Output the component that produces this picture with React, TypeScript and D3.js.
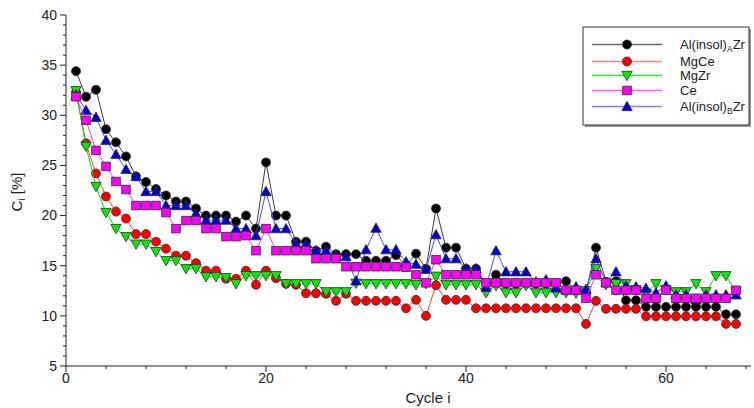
import React from "react";
import * as d3 from "d3";

// Cycle-by-cycle values, C_i [%], cycles 1..67
const alInsolA = [
  34.4, 31.85, 32.55, 28.6, 27.3, 25.9, 23.9, 23.35, 22.65, 22.0,
  21.4, 21.4, 20.7, 20.0, 20.0, 20.0, 19.4, 20.0, 18.7, 25.3,
  20.0, 20.0, 17.4, 17.4, 16.5, 16.9, 16.15, 16.15, 16.15, 15.5,
  15.5, 15.5, 16.05, 15.0, 16.2, 14.7, 20.7, 16.8, 16.8, 14.7,
  14.7, 13.2, 14.1, 13.2, 13.2, 13.2, 13.2, 13.2, 13.2, 13.45,
  12.6, 12.4, 16.8, 13.4, 13.45, 11.55, 11.55, 10.9, 10.9, 10.9,
  10.9, 10.9, 10.9, 10.9, 10.9, 10.15, 10.15,
];
const mgCe = [
  32.3, 27.2, 24.2, 21.9, 20.4, 19.7, 18.15, 18.15, 17.4, 16.7,
  16.0, 16.0, 15.25, 14.5, 14.5, 13.7, 13.7, 14.5, 13.1, 14.5,
  13.75, 13.2, 13.1, 12.25, 12.25, 12.2, 11.5, 12.2, 11.5, 11.5,
  11.5, 11.5, 11.5, 10.75, 11.6, 10.0, 13.05, 11.6, 11.6, 11.6,
  10.75, 10.75, 10.75, 10.75, 10.75, 10.75, 10.75, 10.75, 10.75, 10.75,
  10.75, 9.2, 11.5, 10.7, 10.7, 10.7, 10.7, 9.95, 9.95, 9.95,
  9.95, 9.95, 9.95, 9.95, 9.95, 9.2, 9.2,
];
const mgZr = [
  32.45, 26.9, 22.9, 20.3, 18.7, 17.9, 17.15, 17.15, 16.4, 15.5,
  15.5, 14.7, 14.7, 13.9, 13.9, 13.8, 13.2, 14.0, 14.0, 14.0,
  14.0, 13.2, 13.2, 13.2, 13.2, 12.4, 12.4, 12.4, 13.25, 13.2,
  13.2, 13.2, 13.2, 13.2, 13.1, 13.2, 13.95, 13.1, 13.1, 13.1,
  13.1, 12.3, 13.0, 12.3, 12.3, 13.0, 12.3, 12.3, 12.3, 12.3,
  12.25, 12.5, 14.7, 13.1, 13.2, 13.2, 12.6, 12.25, 13.2, 12.6,
  12.4, 12.4, 13.2, 12.4, 14.0, 14.0, 12.4,
];
const ce = [
  31.85, 29.5, 26.5, 24.9, 23.4, 22.6, 21.0, 21.0, 21.0, 20.3,
  18.7, 19.5, 19.5, 18.7, 18.7, 17.9, 17.9, 18.0, 16.5, 18.7,
  16.5, 16.5, 16.5, 16.5, 15.7, 15.7, 15.7, 14.9, 14.9, 14.9,
  14.9, 14.9, 14.9, 14.85, 14.1, 13.3, 15.6, 14.1, 14.1, 14.1,
  14.1, 13.3, 13.3, 13.3, 13.3, 13.3, 13.3, 13.3, 13.3, 12.55,
  12.55, 11.75, 14.1, 13.3, 12.55, 12.55, 12.55, 11.75, 11.75, 12.55,
  11.75, 11.75, 11.75, 11.75, 11.75, 11.75, 12.55,
];
const alInsolB = [
  32.0, 30.5, 29.8, 27.5, 26.1, 24.6, 23.9, 22.4, 22.4, 21.0,
  21.0, 21.0, 20.2, 19.55, 19.55, 19.55, 18.7, 18.7, 18.0, 22.4,
  18.7, 18.7, 17.2, 17.2, 16.5, 16.5, 16.0, 15.9, 13.5, 16.6,
  18.75, 16.6, 16.6, 15.4, 15.15, 14.65, 18.1, 15.7, 15.7, 14.7,
  14.7, 12.85, 16.5, 14.4, 14.4, 14.4, 13.4, 13.6, 12.8, 12.6,
  12.9, 12.65, 15.7, 13.3, 14.4, 13.0, 12.9, 12.75, 12.3, 13.0,
  12.1, 12.1, 11.6, 12.1, 12.1, 12.1, 12.1,
];

const xTicksMajor = [0, 20, 40, 60];
const yTicksMajor = [5, 10, 15, 20, 25, 30, 35, 40];

type Shape = "circle" | "square" | "triDown" | "triUp";

type Series = {
  values: number[];
  shape: Shape;
  fill: string;
  line: string;
  legendLine: string;
  name: string;
  sub?: string;
  tail?: string;
};

// draw order: first entry ends up at the bottom
const series: Series[] = [
  { values: alInsolA, shape: "circle", fill: "#000000", line: "#3a3a3a", legendLine: "#666666", name: "Al(insol)", sub: "A", tail: "Zr" },
  { values: mgCe, shape: "circle", fill: "#ff0000", line: "#ff3b3b", legendLine: "#ff8080", name: "MgCe" },
  { values: mgZr, shape: "triDown", fill: "#00ee00", line: "#00dd00", legendLine: "#22ee22", name: "MgZr" },
  { values: alInsolB, shape: "triUp", fill: "#0000dd", line: "#4a4aff", legendLine: "#8080ff", name: "Al(insol)", sub: "B", tail: "Zr" },
  { values: ce, shape: "square", fill: "#ff00ff", line: "#ff33ff", legendLine: "#ff55ff", name: "Ce" },
];

const legendOrder = [0, 1, 2, 4, 3];

const W = 754;
const H = 408;
const left = 66;
const right = 751;
const top = 15;
const bottom = 366;

const x = d3.scaleLinear().domain([0, 68.5]).range([left, right]);
const y = d3.scaleLinear().domain([5, 40]).range([bottom, top]);

const FONT = "'Liberation Sans', Arial, Helvetica, sans-serif";

function Marker({ shape, cx, cy, fill }: { shape: Shape; cx: number; cy: number; fill: string }) {
  const stroke = "#303030";
  if (shape === "circle") {
    return <circle cx={cx} cy={cy} r={4.5} fill={fill} stroke={stroke} strokeWidth={0.8} />;
  }
  if (shape === "square") {
    return <rect x={cx - 4.3} y={cy - 4.3} width={8.6} height={8.6} fill={fill} stroke={stroke} strokeWidth={0.8} />;
  }
  const s = 5.2;
  const pts =
    shape === "triUp"
      ? [[cx, cy - s], [cx + s, cy + s * 0.8], [cx - s, cy + s * 0.8]]
      : [[cx, cy + s], [cx + s, cy - s * 0.8], [cx - s, cy - s * 0.8]];
  return <polygon points={pts.map((p) => p.join(",")).join(" ")} fill={fill} stroke={stroke} strokeWidth={0.8} />;
}

export default function App() {
  const line = d3
    .line<number>()
    .x((_, i) => x(i + 1))
    .y((v) => y(v));

  const xMinor = d3.range(0, 69, 4).filter((t) => !xTicksMajor.includes(t));
  const yMinor = d3.range(5, 41, 1).filter((t) => !yTicksMajor.includes(t));

  const legendRows = [44.5, 61.5, 75.5, 90.5, 106.5];

  return (
    <div style={{ position: "fixed", left: 0, top: 0, width: W, height: H, background: "#fff" }}>
      <svg width={W} height={H} style={{ display: "block" }} fontFamily={FONT}>
        <rect width={W} height={H} fill="#ffffff" />

        {/* series */}
        {series.map((s, si) => (
          <g key={si}>
            <path d={line(s.values) || ""} fill="none" stroke={s.line} strokeWidth={1} />
            {s.values.map((v, i) => (
              <Marker key={i} shape={s.shape} cx={x(i + 1)} cy={y(v)} fill={s.fill} />
            ))}
          </g>
        ))}

        {/* axes */}
        <g stroke="#222" strokeWidth={1} fill="none">
          <line x1={left} y1={top} x2={left} y2={bottom + 0.5} />
          <line x1={left} y1={bottom} x2={right} y2={bottom} />
          {yTicksMajor.map((t) => (
            <line key={"ym" + t} x1={left - 6} x2={left} y1={y(t)} y2={y(t)} />
          ))}
          {yMinor.map((t) => (
            <line key={"yn" + t} x1={left - 3} x2={left} y1={y(t)} y2={y(t)} />
          ))}
          {xTicksMajor.map((t) => (
            <line key={"xm" + t} x1={x(t)} x2={x(t)} y1={bottom} y2={bottom + 6} />
          ))}
          {xMinor.map((t) => (
            <line key={"xn" + t} x1={x(t)} x2={x(t)} y1={bottom} y2={bottom + 3} />
          ))}
        </g>

        <g fontSize={14} fill="#222">
          {yTicksMajor.map((t) => (
            <text key={"yl" + t} x={left - 9} y={y(t)} dy="0.35em" textAnchor="end">
              {t}
            </text>
          ))}
          {xTicksMajor.map((t) => (
            <text key={"xl" + t} x={x(t)} y={bottom + 17} textAnchor="middle">
              {t}
            </text>
          ))}
        </g>

        {/* axis titles */}
        <text x={428} y={403} textAnchor="middle" fontSize={15} fill="#222">
          Cycle i
        </text>
        <text transform="translate(22,192) rotate(-90)" textAnchor="middle" fontSize={15} fill="#222">
          C<tspan fontSize={10} dy={3}>i</tspan>
          <tspan dy={-3}> [%]</tspan>
        </text>

        {/* legend */}
        <rect x={585} y={29} width={166} height={98} fill="#9a9a9a" />
        <rect x={583} y={27} width={166} height={98} fill="#ffffff" stroke="#333" strokeWidth={1} />
        {legendOrder.map((si, k) => {
          const s = series[si];
          const ly = legendRows[k];
          return (
            <g key={"lg" + si}>
              <line x1={592} x2={662} y1={ly} y2={ly} stroke={s.legendLine} strokeWidth={1.5} />
              <Marker shape={s.shape} cx={627} cy={ly} fill={s.fill} />
              <text x={680} y={ly + 4.5} fontSize={13} fill="#222">
                {s.name}
                {s.sub ? (
                  <>
                    <tspan fontSize={8.5} dy={2.5}>{s.sub}</tspan>
                    <tspan dy={-2.5}>{s.tail}</tspan>
                  </>
                ) : null}
              </text>
            </g>
          );
        })}
      </svg>
    </div>
  );
}
